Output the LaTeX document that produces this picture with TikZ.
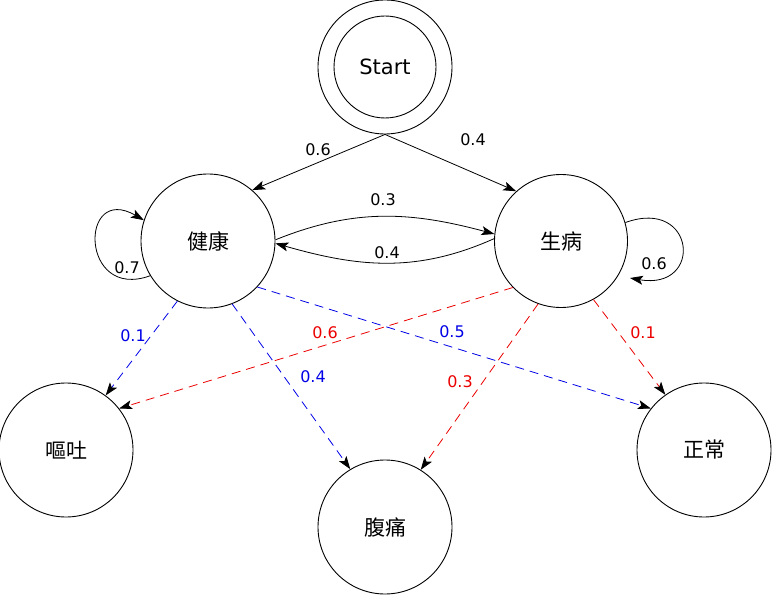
\documentclass[tikz,border=0pt]{standalone}
\usepackage{fontspec}
\setmainfont{DejaVu Sans}
\newfontfamily\cjk{Noto Sans CJK SC}
\usetikzlibrary{arrows.meta}
\definecolor{eblue}{RGB}{0,0,230}
\definecolor{ered}{RGB}{235,0,0}
\begin{document}
\begin{tikzpicture}[x=1pt,y=1pt,
  state/.style={circle,draw,line width=0.9pt,minimum size=134pt,inner sep=0pt,font=\fontsize{21}{24}\selectfont\cjk},
  arr/.style={line width=0.8pt,-{Stealth[length=13pt,width=9pt,inset=3pt,black]}},
  dsh/.style={arr,dash pattern=on 9pt off 6pt},
  lbl/.style={font=\fontsize{16}{18}\selectfont,inner sep=1pt}]
\useasboundingbox (0,0) rectangle (773,598);
\node[state] (start) at (385,531) {};
\node[state,minimum size=102pt,font=\fontsize{21}{24}\selectfont] (startin) at (385,531) {Start};
\node[state] (jk) at (208,357) {健康};
\node[state,minimum size=133pt] (sb) at (561,357) {生病};
\node[state] (ot) at (66,148) {嘔吐};
\node[state] (ft) at (385,71) {腹痛};
\node[state] (zc) at (704,148) {正常};
\coordinate (sbtip) at (630,320);
% solid transitions
\draw[arr] (start.south) -- (jk.49);
\draw[arr] (start.south) -- (sb.132);
\draw[arr] (jk.1) to[out=22,in=165] (sb.174);
\draw[arr] (sb.178) to[out=204,in=-16] (jk.-2);
\draw[arr] (jk.211) .. controls +(200:75) and +(150:75) .. (jk.162);
\draw[arr] (sb.16) .. controls +(20:75) and +(-10:75) .. (sbtip);
% dashed emissions
\draw[dsh,eblue] (jk.243) -- (ot.54);
\draw[dsh,eblue] (jk.291) -- (ft.121);
\draw[dsh,eblue] (jk.317) -- (zc.142);
\draw[dsh,ered] (sb.224) -- (ot.38);
\draw[dsh,ered] (sb.250) -- (ft.58);
\draw[dsh,ered] (sb.299) -- (zc.125);
% labels
\node[lbl] (l1) at (318,448) {0.6};
\node[lbl] (l2) at (473,458) {0.4};
\node[lbl] (l3) at (383,398) {0.3};
\node[lbl] (l4) at (387,345) {0.4};
\node[lbl] (l5) at (127,330) {0.7};
\node[lbl] (l6) at (654,334) {0.6};
\node[lbl,text=eblue] (l7) at (133,262) {0.1};
\node[lbl,text=eblue] (l8) at (313,221) {0.4};
\node[lbl,text=eblue] (l9) at (452,266) {0.5};
\node[lbl,text=ered] (l10) at (325,265) {0.6};
\node[lbl,text=ered] (l11) at (460,216) {0.3};
\node[lbl,text=ered] (l12) at (643,265) {0.1};
\end{tikzpicture}
\end{document}
